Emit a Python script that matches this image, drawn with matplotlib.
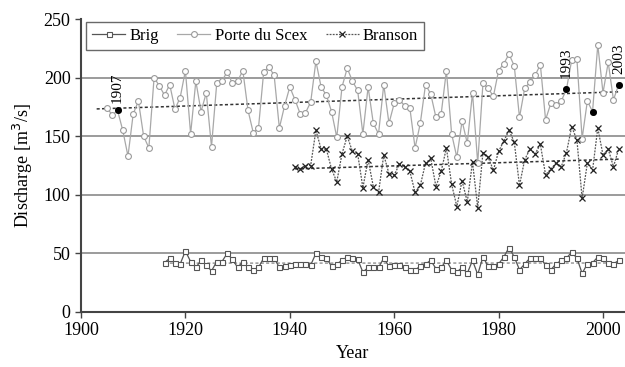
import matplotlib
matplotlib.use("Agg")
import matplotlib.pyplot as plt
import numpy as np

plt.rcParams['font.family'] = ['Liberation Serif', 'DejaVu Serif']

# ---- data ----
scex_years = list(range(1905, 2004))
scex_values = [174, 168, 172, 155, 133, 169, 180, 150, 140, 200,
               193, 185, 194, 173, 183, 206, 152, 197, 171, 187,
               141, 195, 197, 205, 195, 197, 206, 172, 153, 157,
               205, 209, 202, 157, 176, 192, 181, 169, 170, 179,
               214, 192, 185, 171, 149, 192, 208, 197, 189, 152,
               192, 161, 152, 194, 161, 178, 181, 176, 174, 140,
               161, 194, 186, 166, 169, 206, 152, 132, 163, 144,
               187, 127, 195, 191, 184, 206, 212, 220, 210, 166,
               191, 196, 202, 211, 164, 178, 177, 180, 190, 215,
               216, 148, 180, 171, 228, 187, 213, 181, 194]
highlight_years = [1907, 1993, 1998, 2003]
label_years = ['1907', '1993', '2003']

branson_years = list(range(1941, 2004))
branson_values = [124, 122, 125, 125, 155, 139, 139, 122, 111, 135,
                  150, 137, 135, 106, 130, 107, 102, 134, 118, 117,
                  126, 124, 120, 102, 108, 127, 131, 107, 120, 140,
                  109, 90, 112, 94, 128, 89, 136, 132, 121, 137,
                  146, 155, 145, 108, 130, 139, 135, 143, 117, 122,
                  127, 124, 136, 158, 147, 97, 127, 121, 157, 134,
                  139, 124, 139]

brig_years = list(range(1916, 2004))
brig_values = [42, 46, 42, 41, 52, 43, 38, 44, 40, 35,
               43, 43, 50, 45, 38, 43, 38, 36, 38, 46,
               46, 46, 38, 39, 40, 41, 41, 41, 40, 50,
               47, 46, 39, 41, 44, 47, 46, 45, 34, 38,
               38, 38, 46, 39, 40, 40, 38, 36, 36, 39,
               41, 44, 37, 38, 44, 36, 34, 38, 33, 44,
               32, 47, 39, 39, 41, 47, 55, 47, 36, 41,
               46, 46, 46, 40, 36, 41, 44, 46, 51, 46,
               33, 41, 42, 47, 46, 42, 41, 44]

xticks = [1900, 1920, 1940, 1960, 1980, 2000]
yticks = [0, 50, 100, 150, 200, 250]

# ---- figure ----
fig = plt.figure(figsize=(6.25, 3.67), dpi=100)
ax = fig.add_axes([81/625, 1-312/367, 1-81/625, (312-19)/367])

grid_c = '#8a8a8a'
for v in yticks[1:-1]:
    ax.axhline(v, color=grid_c, lw=1.2, zorder=0)

def trend(xs, ys, x0=None, x1=None):
    xs = np.asarray(xs, float); ys = np.asarray(ys, float)
    p = np.polyfit(xs, ys, 1)
    a = xs.min() if x0 is None else x0
    b = xs.max() if x1 is None else x1
    xx = np.array([a, b])
    return xx, np.polyval(p, xx)

# Porte du Scex
ax.plot(scex_years, scex_values, color='#a8a8a8', lw=0.9, marker='o', ms=4.2,
        mfc='white', mec='#9a9a9a', mew=0.8, zorder=3, label='Porte du Scex')
hx = [y for y in highlight_years]
hy = [scex_values[scex_years.index(y)] for y in highlight_years]
ax.plot(hx, hy, ls='none', marker='o', ms=4, color='black', zorder=5)
tx, ty = trend(scex_years, scex_values, 1903, 2003)
ax.plot(tx, ty, color='#333333', lw=1.1, ls=(0, (2, 1.5)), zorder=2)

# Branson
ax.plot(branson_years, branson_values, color='#555555', lw=0.9, ls=(0, (1.5, 1)),
        marker='x', ms=4, mec='#222222', mew=0.9, zorder=4, label='Branson')
tx, ty = trend(branson_years, branson_values)
ax.plot(tx, ty, color='#333333', lw=1.1, ls=(0, (2, 1.5)), zorder=2)

# Brig
ax.plot(brig_years, brig_values, color='#555555', lw=0.9, marker='s', ms=3.6,
        mfc='white', mec='#555555', mew=0.8, zorder=4, label='Brig')
tx, ty = trend(brig_years, brig_values)
ax.plot(tx, ty, color='#999999', lw=1.1, ls=(0, (2, 1.5)), zorder=2)

# annotations
for lab in label_years:
    yr = int(lab)
    val = scex_values[scex_years.index(yr)]
    off = 5 if yr == 1907 else 8
    ax.annotate(lab, (yr, val), xytext=(0, off), textcoords='offset points',
                rotation=90, ha='center', va='bottom', fontsize=11)

ax.set_xlim(1900, 1900 + (625-81)/5.22)
ax.set_ylim(0, 250)
ax.set_xticks(xticks)
ax.set_yticks(yticks)
ax.tick_params(labelsize=13, length=4, width=1, color='#444444', direction='out')
for s in ['right', 'top']:
    ax.spines[s].set_visible(False)
for s in ['left', 'bottom']:
    ax.spines[s].set_color('#444444')
    ax.spines[s].set_linewidth(1.5)

ax.set_xlabel('Year', fontsize=13, labelpad=4)
ax.set_ylabel('Discharge [m$^3$/s]', fontsize=13, labelpad=6)

handles, labels = ax.get_legend_handles_labels()
order = [labels.index('Brig'), labels.index('Porte du Scex'), labels.index('Branson')]
leg = ax.legend([handles[i] for i in order], [labels[i] for i in order],
                loc='upper left', bbox_to_anchor=(5/544, 1-3/293), ncol=3,
                fontsize=12, frameon=True, fancybox=False, edgecolor='#444444',
                handlelength=2.0, handletextpad=0.25, columnspacing=1.1,
                borderpad=0.35, borderaxespad=0.0)
leg.get_frame().set_linewidth(1.0)

fig.savefig('out.png', dpi=100)
